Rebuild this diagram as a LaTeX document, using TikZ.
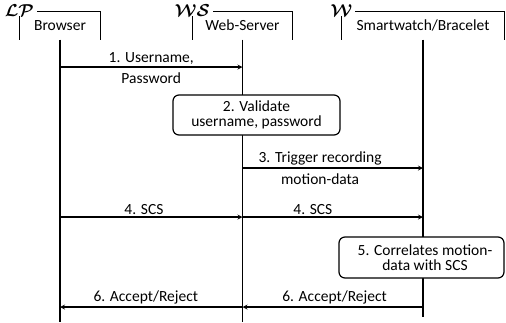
\documentclass[tikz,border=0pt]{standalone}
\usepackage{amsmath, amssymb}
\usepackage{fontspec}
\setmainfont{Carlito}
\usetikzlibrary{positioning}

\begin{document}
\begin{tikzpicture}[x=1pt, y=-1pt, line width=1.2pt, >=stealth, font=\fontsize{15.5}{17}\selectfont,
  head/.style={inner sep=0, minimum height=27},
  tag/.style={fill=white, inner xsep=3pt, inner ysep=0pt, font=\fontsize{17}{17}\selectfont},
  act/.style={draw, fill=white, rounded corners=6pt, align=center, inner sep=0, font=\fontsize{15.5}{15}\selectfont},
  msg/.style={inner sep=2pt}, msgb/.style={below, inner sep=5pt}]
\useasboundingbox (0,0) rectangle (506,322);
% participants
\node[head, minimum width=80] (lp) at (60,25.5) {Browser};
\node[head, minimum width=99] (ws) at (242.5,25.5) {Web-Server};
\node[head, minimum width=162] (w) at (423,25.5) {Smartwatch/Bracelet};
\foreach \p in {lp,ws,w} \draw (\p.south west) |- (\p.north east) -- (\p.south east);
\node[tag] (lpt) at ([yshift=1pt]lp.north west) {$\boldsymbol{\mathcal{LP}}$};
\node[tag] (wst) at ([yshift=1pt]ws.north west) {$\boldsymbol{\mathcal{WS}}$};
\node[tag] (wt) at ([yshift=1pt]w.north west) {$\boldsymbol{\mathcal{W}}$};
% lifelines
\coordinate (lpe) at (60,322);
\coordinate (wse) at (242.5,322);
\coordinate (we) at (423,317);
\draw (lp.south) -- (lpe);
\draw (ws.south) -- (wse);
\draw (w.south) -- (we);
% message levels
\coordinate (m1) at (0,67);
\coordinate (m3) at (0,168);
\coordinate (m4) at (0,217);
\coordinate (m6) at (0,307);
\draw[->] (lp |- m1) -- node[msg,above]{1. Username,} node[msgb]{Password} (ws |- m1);
\node[act, minimum width=167, minimum height=40] (val) at (256.5,115) {2. Validate\\username, password};
\draw[->] (ws |- m3) -- node[msg,above,pos=.43]{3. Trigger recording} node[msgb,pos=.43]{motion-data} (w |- m3);
\draw[->] (lp |- m4) -- node[msg,above,pos=.46]{4. SCS} (ws |- m4);
\draw[->] (ws |- m4) -- node[msg,above,pos=.39]{4. SCS} (w |- m4);
\node[act, minimum width=165, minimum height=41] (cor) at (421.5,257.5) {\hspace*{7pt}5. Correlates motion-\\\hspace*{7pt}data with SCS};
\draw[->] (w |- m6) -- node[msg,above,pos=.49]{6. Accept/Reject} (ws |- m6);
\draw[->] (ws |- m6) -- node[msg,above,pos=.53]{6. Accept/Reject} (lp |- m6);
\end{tikzpicture}
\end{document}
